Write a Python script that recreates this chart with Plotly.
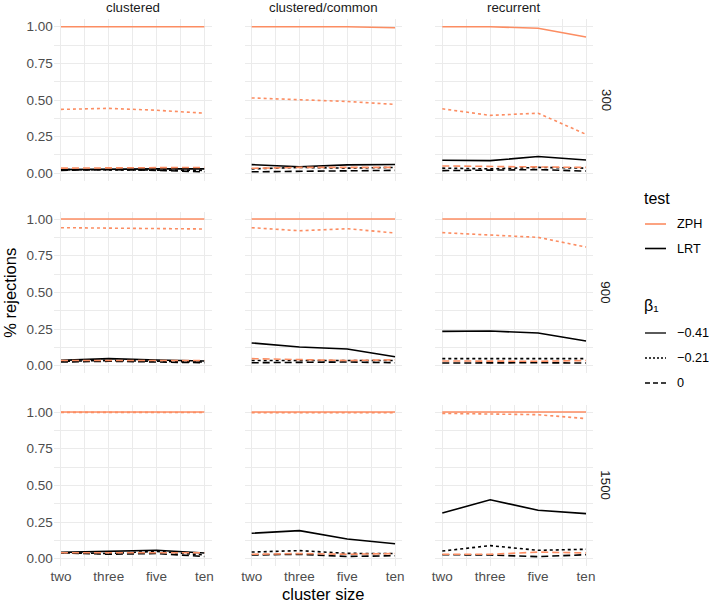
import plotly.graph_objects as go

W, H = 709, 604

categories = ["two", "three", "five", "ten"]
designs = ["clustered", "clustered/common", "recurrent"]
sample_sizes = ["300", "900", "1500"]
y_tick_vals = [0, 0.25, 0.5, 0.75, 1.0]
y_tick_text = ["0.00", "0.25", "0.50", "0.75", "1.00"]
tests = ["ZPH", "LRT"]
betas = ["\u22120.41", "\u22120.21", "0"]

# each array: [clustered, clustered/common, recurrent] x [two, three, five, ten]
zph_m041_n300 = [[1, 1, 1, 1], [1, 1, 1, 0.993], [1, 1, 0.99, 0.93]]
zph_m021_n300 = [[0.436, 0.443, 0.43, 0.41], [0.514, 0.503, 0.49, 0.47], [0.44, 0.395, 0.41, 0.266]]
zph_0_n300 = [[0.035, 0.035, 0.035, 0.04], [0.034, 0.04, 0.04, 0.04], [0.05, 0.045, 0.04, 0.04]]
lrt_m041_n300 = [[0.025, 0.03, 0.03, 0.03], [0.059, 0.045, 0.057, 0.06], [0.089, 0.086, 0.114, 0.091]]
lrt_m021_n300 = [[0.025, 0.025, 0.02, 0.02], [0.03, 0.04, 0.035, 0.04], [0.035, 0.03, 0.04, 0.035]]
lrt_0_n300 = [[0.02, 0.025, 0.02, 0.01], [0.01, 0.015, 0.02, 0.02], [0.018, 0.02, 0.025, 0.015]]

zph_m041_n900 = [[1, 1, 1, 1], [1, 1, 1, 1], [1, 1, 1, 1]]
zph_m021_n900 = [[0.941, 0.94, 0.935, 0.932], [0.941, 0.92, 0.934, 0.905], [0.907, 0.893, 0.875, 0.809]]
zph_0_n900 = [[0.035, 0.035, 0.035, 0.035], [0.048, 0.04, 0.035, 0.04], [0.032, 0.03, 0.03, 0.035]]
lrt_m041_n900 = [[0.036, 0.048, 0.039, 0.032], [0.155, 0.127, 0.114, 0.061], [0.234, 0.236, 0.223, 0.168]]
lrt_m021_n900 = [[0.03, 0.035, 0.03, 0.025], [0.035, 0.035, 0.03, 0.035], [0.048, 0.048, 0.05, 0.048]]
lrt_0_n900 = [[0.025, 0.03, 0.025, 0.02], [0.02, 0.025, 0.025, 0.02], [0.018, 0.02, 0.02, 0.018]]

zph_m041_n1500 = [[1, 1, 1, 1], [1, 1, 1, 1], [1, 1, 1, 1]]
zph_m021_n1500 = [[0.998, 0.998, 0.998, 0.997], [0.995, 0.995, 0.99, 0.995], [0.991, 0.989, 0.982, 0.955]]
zph_0_n1500 = [[0.04, 0.04, 0.04, 0.04], [0.03, 0.035, 0.03, 0.035], [0.03, 0.03, 0.045, 0.039]]
lrt_m041_n1500 = [[0.043, 0.052, 0.057, 0.039], [0.173, 0.191, 0.134, 0.102], [0.311, 0.402, 0.33, 0.307]]
lrt_m021_n1500 = [[0.04, 0.035, 0.05, 0.025], [0.045, 0.055, 0.036, 0.035], [0.052, 0.089, 0.057, 0.064]]
lrt_0_n1500 = [[0.04, 0.03, 0.035, 0.015], [0.025, 0.03, 0.015, 0.02], [0.027, 0.025, 0.014, 0.027]]

series_by_row = [
    {("ZPH", 0): zph_m041_n300, ("ZPH", 1): zph_m021_n300, ("ZPH", 2): zph_0_n300,
     ("LRT", 0): lrt_m041_n300, ("LRT", 1): lrt_m021_n300, ("LRT", 2): lrt_0_n300},
    {("ZPH", 0): zph_m041_n900, ("ZPH", 1): zph_m021_n900, ("ZPH", 2): zph_0_n900,
     ("LRT", 0): lrt_m041_n900, ("LRT", 1): lrt_m021_n900, ("LRT", 2): lrt_0_n900},
    {("ZPH", 0): zph_m041_n1500, ("ZPH", 1): zph_m021_n1500, ("ZPH", 2): zph_0_n1500,
     ("LRT", 0): lrt_m041_n1500, ("LRT", 1): lrt_m021_n1500, ("LRT", 2): lrt_0_n1500},
]

test_colors = {"ZPH": "#FC8D62", "LRT": "#000000"}
beta_dash = ["solid", "3px,3px", "7px,4px"]
LW = 1.6
FONT = "Liberation Sans, Arial, Helvetica, sans-serif"
GRID = "#EBEBEB"
TICKC = "#4D4D4D"

# panel pixel geometry
col_px = [(53.8, 211.5), (244.5, 402.2), (435.1, 593.2)]
row_px = [(19.4, 180.6), (211.7, 373.0), (404.7, 566.0)]

x_pos = [i + 1 for i in range(len(categories))]

fig = go.Figure()
layout = {}
for r in range(3):
    for c in range(3):
        p = r * 3 + c
        s = "" if p == 0 else str(p + 1)
        for t in ["LRT", "ZPH"]:
            for b in range(3):
                fig.add_trace(go.Scatter(
                    x=x_pos, y=series_by_row[r][(t, b)][c], mode="lines",
                    line=dict(color=test_colors[t], width=LW, dash=beta_dash[b]),
                    xaxis="x" + s, yaxis="y" + s, showlegend=False,
                    name=f"{t} {betas[b]}", hoverinfo="skip"))
        x0, x1 = col_px[c]
        y0, y1 = row_px[r]
        layout["xaxis" + s] = dict(
            domain=[x0 / W, x1 / W], anchor="y" + s, range=[0.85, 4.15],
            tickmode="array", tickvals=x_pos, ticktext=categories,
            showticklabels=(r == 2), ticks="", showgrid=True, gridcolor=GRID,
            gridwidth=1.1, zeroline=False, showline=False,
            minor=dict(tickmode="array", tickvals=[1.5, 2.5, 3.5], showgrid=True,
                       gridcolor=GRID, gridwidth=0.6, ticks=""),
            tickfont=dict(family=FONT, size=13.5, color=TICKC), automargin=False,
            fixedrange=True)
        layout["yaxis" + s] = dict(
            domain=[1 - y1 / H, 1 - y0 / H], anchor="x" + s, range=[-0.05, 1.05],
            tickmode="array", tickvals=y_tick_vals, ticktext=y_tick_text,
            showticklabels=(c == 0), ticks="", showgrid=True, gridcolor=GRID,
            gridwidth=1.1, zeroline=False, showline=False,
            minor=dict(tickmode="array", tickvals=[0.125, 0.375, 0.625, 0.875],
                       showgrid=True, gridcolor=GRID, gridwidth=0.6, ticks=""),
            tickfont=dict(family=FONT, size=13.5, color=TICKC), automargin=False,
            fixedrange=True)

annotations = []
# column strips
for c, d in enumerate(designs):
    annotations.append(dict(text=d, x=(col_px[c][0] + col_px[c][1]) / 2 / W, y=1 - 8 / H,
                            xref="paper", yref="paper", showarrow=False,
                            xanchor="center", yanchor="middle",
                            font=dict(family=FONT, size=13.3, color="#1A1A1A")))
# row strips
for r, n in enumerate(sample_sizes):
    annotations.append(dict(text=n, x=606 / W, y=1 - (row_px[r][0] + row_px[r][1]) / 2 / H,
                            xref="paper", yref="paper", showarrow=False, textangle=90,
                            xanchor="center", yanchor="middle",
                            font=dict(family=FONT, size=13.3, color="#1A1A1A")))
# axis titles
annotations.append(dict(text="cluster size", x=(col_px[0][0] + col_px[2][1]) / 2 / W, y=1 - 594 / H,
                        xref="paper", yref="paper", showarrow=False, xanchor="center", yanchor="middle",
                        font=dict(family=FONT, size=16.5, color="#000000")))
annotations.append(dict(text="% rejections", x=10 / W, y=1 - 292.7 / H, textangle=-90,
                        xref="paper", yref="paper", showarrow=False, xanchor="center", yanchor="middle",
                        font=dict(family=FONT, size=16.5, color="#000000")))

# legends (drawn manually, ggplot style)
shapes = []
LX0, LX1, LTX = 645, 666, 675
annotations.append(dict(text="test", x=642 / W, y=1 - 199 / H, xref="paper", yref="paper",
                        showarrow=False, xanchor="left", yanchor="middle",
                        font=dict(family=FONT, size=16, color="#000000")))
for i, t in enumerate(tests):
    yy = 224 + 24.5 * i
    shapes.append(dict(type="line", xref="paper", yref="paper", x0=LX0 / W, x1=LX1 / W,
                       y0=1 - yy / H, y1=1 - yy / H,
                       line=dict(color=test_colors[t], width=LW)))
    annotations.append(dict(text=t, x=LTX / W, y=1 - yy / H, xref="paper", yref="paper",
                            showarrow=False, xanchor="left", yanchor="middle",
                            font=dict(family=FONT, size=12.7, color="#000000")))
annotations.append(dict(text="\u03b2\u2081", x=642 / W, y=1 - 305 / H, xref="paper", yref="paper",
                        showarrow=False, xanchor="left", yanchor="middle",
                        font=dict(family=FONT, size=16, color="#000000")))
for i, b in enumerate(betas):
    yy = 333 + 25 * i
    shapes.append(dict(type="line", xref="paper", yref="paper", x0=LX0 / W, x1=LX1 / W,
                       y0=1 - yy / H, y1=1 - yy / H,
                       line=dict(color="#000000", width=LW - 0.3,
                                 dash=["solid", "2px,2px", "5px,3px"][i])))
    annotations.append(dict(text=b, x=LTX / W, y=1 - yy / H, xref="paper", yref="paper",
                            showarrow=False, xanchor="left", yanchor="middle",
                            font=dict(family=FONT, size=12.7, color="#000000")))

fig.update_layout(
    width=W, height=H, margin=dict(l=0, r=0, t=0, b=0),
    paper_bgcolor="white", plot_bgcolor="white", showlegend=False,
    annotations=annotations, shapes=shapes, **layout)

fig.write_html("out.html", config={"displayModeBar": False},
               post_script="document.body.style.margin='0';document.body.style.padding='0';")
